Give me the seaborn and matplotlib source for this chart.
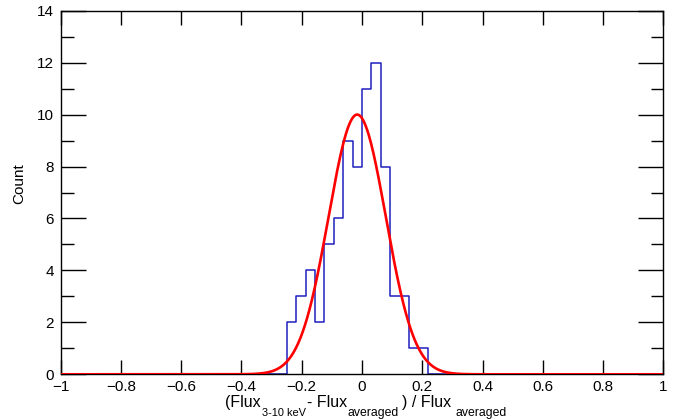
import numpy as np
import pandas as pd
import matplotlib
matplotlib.use("Agg")
import matplotlib.pyplot as plt
from matplotlib.ticker import MultipleLocator
import seaborn as sns

# ---- data ----
bin_width = 1.0 / 32.0
first_edge = -0.25
counts = [2, 3, 4, 2, 5, 6, 9, 8, 11, 12, 8, 3, 3, 1, 1]
fit_amplitude = 10.0
fit_mean = -0.016
fit_sigma = 0.095
x_ticks = [-1, -0.8, -0.6, -0.4, -0.2, 0, 0.2, 0.4, 0.6, 0.8, 1]
y_ticks = [0, 2, 4, 6, 8, 10, 12, 14]
y_title = "Count"
# x title pieces: (text, is_subscript)
x_title_parts = [("(Flux", False), ("3-10 keV", True), ("- Flux", False),
                 ("averaged", True), (") / Flux", False), ("averaged", True)]

sns.set_theme(style="ticks")
plt.rcParams['font.family'] = ['Liberation Sans', 'DejaVu Sans']

W, H = 678, 419
fig = plt.figure(figsize=(W / 100, H / 100), dpi=100)
ax = fig.add_axes([60.7 / W, (H - 374.3) / H, 602.6 / W, 363.6 / H])

centers = first_edge + bin_width * (np.arange(len(counts)) + 0.5)
hist_df = pd.DataFrame({"x": centers, "w": np.array(counts, dtype=float)})
sns.histplot(data=hist_df, x="x", weights="w", binwidth=bin_width,
             binrange=(-1, 1), element="step",
             fill=False, color="#1f1fbf", linewidth=1.1, ax=ax)

xf = np.linspace(-1, 1, 801)
yf = fit_amplitude * np.exp(-0.5 * ((xf - fit_mean) / fit_sigma) ** 2)
sns.lineplot(x=xf, y=yf, color="red", linewidth=1.9, ax=ax, zorder=5)

ax.set_xlim(-1, 1)
ax.set_ylim(0, 14)
ax.set_xticks(x_ticks)
ax.set_xticklabels([("%g" % v).replace("-", "\u2212") for v in x_ticks])
ax.set_yticks(y_ticks)
ax.yaxis.set_minor_locator(MultipleLocator(1))

for s in ax.spines.values():
    s.set_visible(True)
    s.set_linewidth(1.0)
    s.set_color("black")

ax.tick_params(axis='both', which='both', direction='in', top=True, right=True,
               labelsize=11, colors='black', width=1.0)
ax.tick_params(axis='x', which='major', length=10, pad=4)
ax.tick_params(axis='y', which='major', length=18, pad=5)
ax.tick_params(axis='y', which='minor', length=9)
ax.set_xlabel("")
ax.set_ylabel("")

# y title
fig.text(19 / W, (H - 184) / H, y_title, rotation=90, ha='center', va='center',
         fontsize=11, color='black')

# x title built from pieces: main text and lowered subscripts
main_base = H - 407.3
sub_base = H - 416.3
piece_x = [225, 262, 307, 348, 402, 455]
piece_fs = [11.5, 7.9, 11.5, 8.8, 11.5, 8.8]
for (s, is_sub), px, fs in zip(x_title_parts, piece_x, piece_fs):
    fig.text(px / W, (sub_base if is_sub else main_base) / H, s,
             fontsize=fs, ha='left', va='baseline', color='black')

fig.savefig("out.png", dpi=100, facecolor="white")
